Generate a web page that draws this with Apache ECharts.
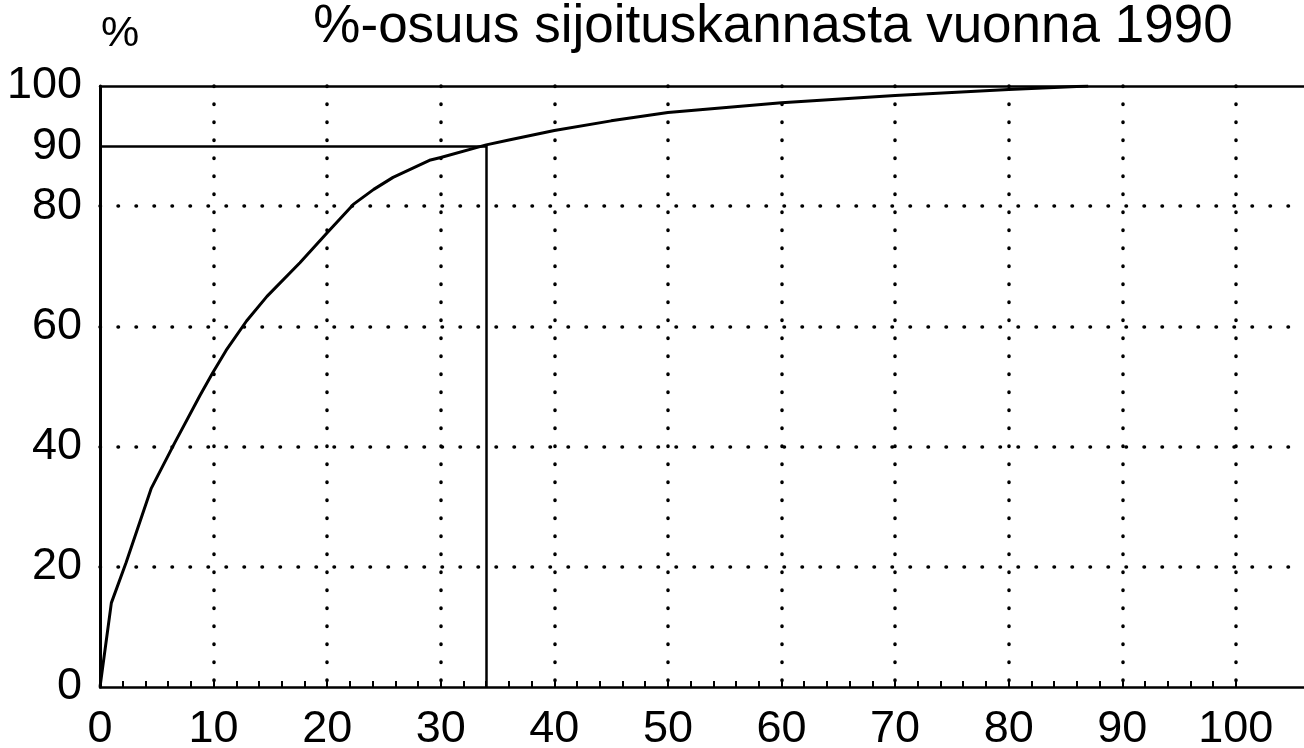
<!DOCTYPE html>
<html>
<head>
<meta charset="utf-8">
<title>%-osuus sijoituskannasta vuonna 1990</title>
<script src="https://cdn.jsdelivr.net/npm/echarts@6/dist/echarts.min.js"></script>
<style>
  html, body { margin: 0; padding: 0; background: #fff; }
  #chart { width: 1304px; height: 748px; }
</style>
</head>
<body>
<div id="chart"></div>
<script>
// kumulatiivinen osuus, luettu kuvasta
var xData = [0, 1, 2.3, 4.5, 6.6, 8.8, 9.9, 11.1, 12.9, 14.7, 17.6, 20, 22.3, 24.1, 25.8, 29.1, 30, 34, 36, 40, 45, 50, 60, 70, 80, 87];
var yData = [0, 14, 20.7, 33, 40.7, 48.5, 52.2, 56, 60.9, 65, 70.6, 75.6, 80.3, 82.8, 84.8, 87.7, 88.1, 90.2, 91, 92.6, 94.2, 95.6, 97.2, 98.4, 99.4, 100];
var xLabels = [0, 10, 20, 30, 40, 50, 60, 70, 80, 90, 100];
var xSmallTicks = [0, 2, 4, 6, 8, 10, 12, 14, 16, 18, 20, 22, 24, 26, 28, 30, 32, 34, 36, 38, 40, 42, 44, 46, 48, 50,
                   52, 54, 56, 58, 60, 62, 64, 66, 68, 70, 72, 74, 76, 78, 80, 82, 84, 86, 88, 90, 92, 94, 96, 98, 100];
var yLabels = [0, 20, 40, 60, 80, 90, 100];
var cutX = 34;
var cutY = 90;

var chart = echarts.init(document.getElementById('chart'));

var points = xData.map(function (x, i) { return [x, yData[i]]; });
var font = '"Liberation Sans", Arial, sans-serif';
var labelFont = { color: '#000', fontFamily: font, fontSize: 45 };
var dots = { type: [0.5, 17.5], cap: 'round', width: 3.5 };
var none = 'rgba(0,0,0,0)';
// pisteviiva vain kymmenien kohdalle (ei nollaan)
var xGridColors = xSmallTicks.map(function (v) { return v > 0 && v % 10 === 0 ? '#000' : none; });

chart.setOption({
  animation: false,
  backgroundColor: '#fff',
  title: [{
    text: '%-osuus sijoituskannasta vuonna 1990',
    left: 768,
    textAlign: 'center',
    top: -4,
    textStyle: { color: '#000', fontWeight: 'normal', fontFamily: font, fontSize: 53 }
  }, {
    text: '%',
    left: 96,
    top: 8,
    textStyle: { color: '#000', fontWeight: 'normal', fontFamily: font, fontSize: 43 }
  }],
  grid: { left: 100, right: 0, top: 86, bottom: 61, outerBoundsMode: 'none' },
  xAxis: [{
    type: 'value',
    min: 0,
    max: 106,
    interval: 10,
    axisLine: { lineStyle: { color: '#000', width: 2.5 } },
    axisTick: {
      show: true,
      inside: true,
      length: 6,
      customValues: xSmallTicks,
      lineStyle: { color: '#000', width: 2 }
    },
    axisLabel: Object.assign({ customValues: xLabels, margin: 20 }, labelFont),
    splitLine: {
      show: true,
      lineStyle: Object.assign({ color: xGridColors }, dots)
    }
  }, {
    // yläreuna
    type: 'value',
    position: 'top',
    min: 0,
    max: 106,
    axisLine: { lineStyle: { color: '#000', width: 2.5 } },
    axisTick: { show: false },
    axisLabel: { show: false },
    splitLine: { show: false }
  }],
  yAxis: {
    type: 'value',
    min: 0,
    max: 100,
    interval: 20,
    axisLine: { show: true, lineStyle: { color: '#000', width: 3 } },
    axisTick: { show: false },
    axisLabel: Object.assign({ customValues: yLabels, margin: 18 }, labelFont),
    splitLine: {
      show: true,
      lineStyle: Object.assign({ color: [none, '#000', '#000', '#000', '#000', none] }, dots)
    }
  },
  series: [{
    type: 'line',
    data: points,
    symbol: 'none',
    lineStyle: { color: '#000', width: 3 },
    markLine: {
      silent: true,
      symbol: 'none',
      label: { show: false },
      lineStyle: { color: '#000', width: 2.5, type: 'solid' },
      data: [
        [{ coord: [0, cutY] }, { coord: [cutX, cutY] }],
        [{ coord: [cutX, 0] }, { coord: [cutX, cutY] }]
      ]
    }
  }]
});
</script>
</body>
</html>
